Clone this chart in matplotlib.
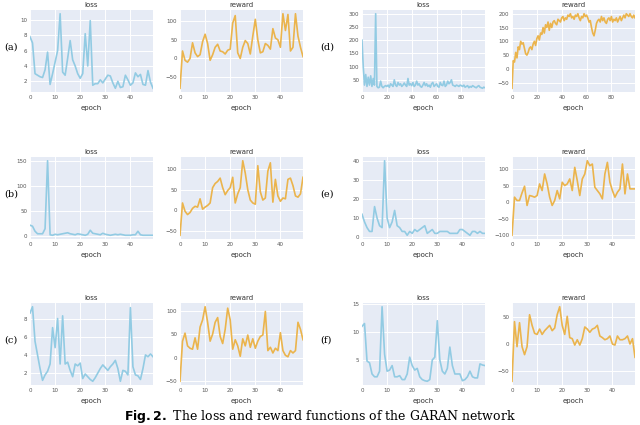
import matplotlib
matplotlib.use("Agg")
import matplotlib.pyplot as plt
import numpy as np

labels = ["(a)", "(b)", "(c)", "(d)", "(e)", "(f)"]

loss_a = [7.8,7,3,2.8,2.6,2.5,3.5,5.8,1.6,3,4.5,6,10.8,3.2,2.8,5,7.3,4.8,4,3,2.4,3,8.2,4,9.9,1.5,1.7,1.7,2.2,1.8,2.3,2.8,2.7,1.8,1.1,2,1.2,1.3,2.8,2.2,1.5,1.8,3.1,2.6,2.9,1.6,1.5,3.4,1.9,1.1]
rew_a = [-80,20,-5,-10,0,42,15,5,10,45,65,40,-5,10,30,38,20,18,12,22,25,95,115,15,0,30,48,40,12,60,105,50,15,18,40,35,25,80,55,50,30,120,75,118,20,30,120,60,30,5]
loss_b = [22,20,10,5,5,5,15,150,3,2,4,3,4,5,6,7,5,4,3,5,4,3,2,4,12,6,5,4,3,6,4,3,2,3,4,3,4,3,2,2,2,3,3,10,3,2,2,2,2,2]
rew_b = [-60,18,-2,-10,-5,5,10,8,28,3,8,12,18,55,65,70,78,55,38,48,55,80,18,40,55,120,90,50,25,18,15,108,45,25,30,95,115,20,75,35,22,30,28,75,78,60,35,32,40,80]
loss_c = [8.6,9.3,5.5,4,2.5,1.2,1.8,2.2,3,7,4.8,8,3,8.3,3,3.2,2.3,1.6,3,2.8,3.1,1.4,1.9,1.6,1.3,1.1,1.5,2,2.5,2.9,2.6,2.3,2.7,3,3.4,2.5,1.1,2.3,2.2,1.8,9.2,2.7,1.8,1.7,1.3,2.5,4,3.8,4.1,3.8]
rew_c = [-50,35,52,25,20,18,42,18,65,80,108,75,35,50,75,85,45,30,60,105,80,18,38,25,3,40,25,48,22,40,20,35,45,48,98,15,22,10,20,15,53,15,5,2,15,10,15,75,60,38]
loss_d = [200,100,30,70,25,60,30,65,25,55,30,300,25,20,22,45,25,20,25,28,25,30,22,35,30,25,50,30,25,40,30,35,25,30,38,30,25,55,30,35,28,40,25,30,45,30,35,25,22,30,40,28,35,25,30,22,35,40,25,30,35,25,22,40,30,28,45,25,30,45,35,40,50,30,28,25,30,28,25,30,28,25,30,22,25,28,20,25,22,28,25,22,20,25,28,22,20,18,22,20]
rew_d = [-70,30,25,60,40,80,70,100,90,95,75,55,50,60,75,80,70,90,100,85,110,120,105,130,125,150,130,160,150,170,140,165,150,170,175,165,160,180,175,170,185,190,175,185,180,195,190,200,185,190,180,195,190,200,185,175,190,185,200,190,195,185,170,175,150,130,120,140,165,175,180,170,190,175,185,170,165,180,185,175,190,170,180,175,185,170,180,190,175,185,195,185,200,195,190,200,190,185,195,185]
loss_e = [12,8,5,3,3,16,10,6,5,40,10,5,8,14,6,5,3,3,1,3,2,4,3,4,5,6,2,3,4,2,2,3,3,3,3,2,2,2,2,4,4,3,2,1,3,3,2,3,2,2]
rew_e = [-100,15,5,5,28,48,-10,20,18,15,20,55,35,85,55,15,-10,5,35,10,60,50,55,70,35,105,65,20,70,85,125,110,115,45,35,25,10,85,120,60,35,15,30,40,115,25,85,40,40,40]
loss_f = [11,11.5,4.8,4.5,2.5,2,2,3,14.5,6,3,3.2,4,2,2,2.2,1.5,1.5,2.5,5.5,4,3.2,3.5,2,1.5,1.3,1.2,1.5,5,5.5,12,5,3,2.5,3.5,7.3,4,2.5,2.5,2.5,1.3,1.5,2,3,2,1.8,1.8,4.3,4.1,4]
rew_f = [-70,42,-5,40,-5,-20,-5,55,35,20,18,28,18,25,30,35,25,30,55,70,35,18,52,12,10,-2,8,-2,10,32,28,22,28,30,35,15,12,8,10,15,0,-2,15,8,8,10,15,0,10,-25]

loss_ticks = [[2,4,6,8,10],[0,50,100,150],[2,4,6,8],[50,100,150,200,250,300],[0,10,20,30,40],[5,10,15]]
rew_ticks = [[-50,0,50,100],[-50,0,50,100],[-50,0,50,100],[-50,0,50,100,150,200],[-100,-50,0,50,100],[-50,0,50]]

losses = [loss_a, loss_b, loss_c, loss_d, loss_e, loss_f]
rewards = [rew_a, rew_b, rew_c, rew_d, rew_e, rew_f]

fig = plt.figure(figsize=(6.4, 4.25), dpi=100)
bg = "#e6ebf5"
lc = "#92cbe3"
rc = "#ebb44c"
xs = [[30/640, 180/640], [362/640, 512/640]]
w = 123/640
ybots = [1-92/425, 1-239/425, 1-385/425]
h = 82/425
for i in range(6):
    col = i // 3
    row = i % 3
    for j, (data, title, c, tk) in enumerate([(losses[i], "loss", lc, loss_ticks[i]),
                                              (rewards[i], "reward", rc, rew_ticks[i])]):
        ax = fig.add_axes([xs[col][j], ybots[row], w, h])
        ax.set_facecolor(bg)
        ax.plot(np.arange(len(data)), data, color=c, lw=1.2)
        ax.set_xlim(0, len(data)-1)
        ax.set_yticks(tk)
        ax.grid(color="white", lw=0.7)
        ax.set_axisbelow(True)
        for s in ax.spines.values():
            s.set_visible(False)
        ax.tick_params(labelsize=4, length=0, pad=2, colors="#555555")
        ax.set_title(title, fontsize=5, pad=2, color="#333333")
        ax.set_xlabel("epoch", fontsize=5, color="#333333", labelpad=4)
    fig.text(xs[col][0] - (26/640 if col == 0 else 42/640), ybots[row] + h*0.55, labels[i],
             fontsize=7, family="DejaVu Serif", ha="left", va="center")

fig.text(0.5, 0.001, r"$\mathbf{Fig. 2.}$ The loss and reward functions of the GARAN network",
         fontsize=9, family="DejaVu Serif", ha="center", va="bottom")
fig.savefig("out.png", dpi=100)
